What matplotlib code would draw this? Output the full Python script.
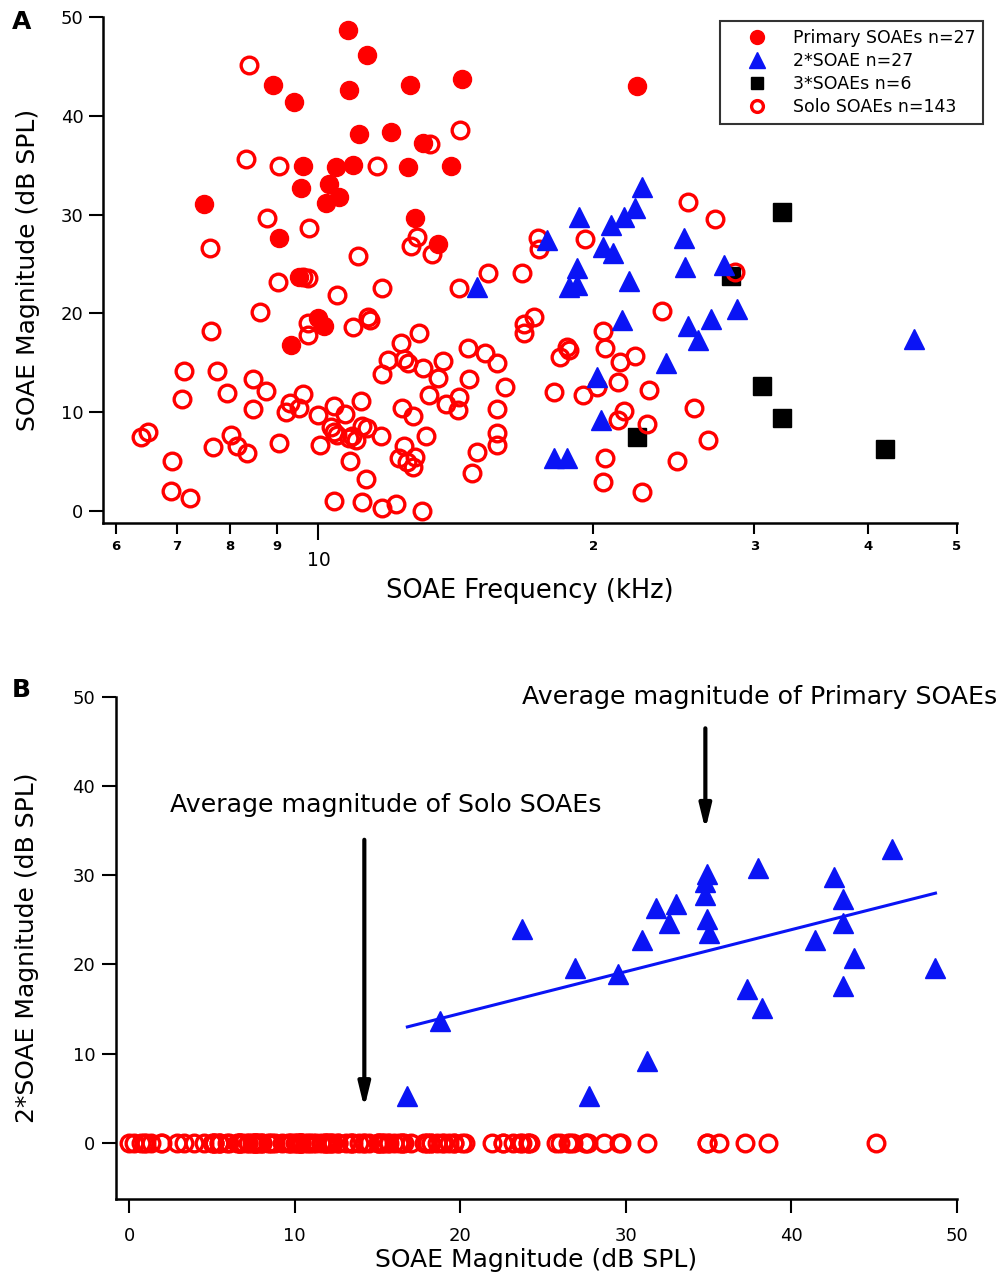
import numpy as np
import matplotlib
matplotlib.use('Agg')
import matplotlib.pyplot as plt
from matplotlib.lines import Line2D

plt.rcParams['font.family'] = ['DejaVu Sans']

# ---- panel A data: frequency (kHz) / magnitude (dB SPL) ----
prim_f = [1.076, 1.131, 0.891, 1.081, 1.258, 1.437, 0.941, 1.109, 1.202, 1.303,
          0.963, 1.044, 1.092, 1.254, 1.395, 0.956, 1.026, 1.054, 1.018, 0.75,
          1.274, 0.906, 1.35, 0.953, 0.934, 1.0, 1.013, 2.23]
prim_m = [48.7, 46.2, 43.1, 42.6, 43.1, 43.7, 41.4, 38.2, 38.4, 37.3,
          34.9, 34.8, 35.0, 34.8, 34.9, 32.7, 33.1, 31.8, 31.2, 31.1,
          29.7, 27.6, 27.0, 23.7, 16.8, 19.5, 18.7, 43.0]

sec_f = [2.26, 2.22, 1.93, 2.16, 2.09, 1.78, 2.51, 2.05, 2.10, 1.92,
         2.52, 2.78, 1.88, 1.92, 2.19, 2.87, 2.15, 2.69, 2.54, 2.60,
         4.49, 1.49, 2.40, 2.02, 2.04, 1.81, 1.87]
sec_m = [32.8, 30.7, 29.8, 29.8, 29.0, 27.4, 27.6, 26.7, 26.1, 24.6,
         24.7, 24.9, 22.7, 22.9, 23.3, 20.5, 19.3, 19.4, 18.7, 17.3,
         17.4, 22.7, 15.0, 13.6, 9.2, 5.4, 5.4]

ter_f = [3.22, 2.83, 3.06, 3.22, 4.17, 2.23]
ter_m = [30.3, 23.8, 12.7, 9.4, 6.3, 7.5]

solo_f = [0.84, 1.43, 1.326, 0.834, 0.906, 1.16, 0.879, 0.977, 0.76, 1.106,
          1.283, 1.264, 1.33, 0.904, 0.963, 0.975, 1.049, 1.175, 1.424, 1.535,
          0.864, 0.762, 0.975, 0.973, 1.092, 1.134, 1.14, 1.23, 1.287, 1.193,
          1.254, 1.24, 1.3, 1.175, 1.37, 1.35, 1.456, 1.46, 1.522, 1.57,
          1.32, 1.378, 1.424, 1.42, 1.57, 1.235, 1.27, 1.313, 1.24, 1.224,
          1.25, 1.277, 1.27, 1.474, 1.493, 1.567, 1.57, 1.172, 1.131, 1.117,
          1.089, 1.1, 1.081, 1.07, 1.112, 1.039, 1.031, 1.039, 1.049, 0.998,
          1.003, 1.084, 1.128, 1.039, 1.117, 1.175, 1.217, 1.297, 0.963, 0.93,
          0.922, 0.951, 0.906, 0.877, 0.849, 0.849, 0.795, 0.775, 0.803, 0.815,
          0.836, 0.766, 0.713, 0.709, 0.692, 0.69, 0.724, 0.64, 0.65,
          1.74, 1.745, 1.96, 2.54, 2.72, 2.86, 1.67, 2.38, 1.72, 1.68,
          1.68, 2.05, 1.87, 2.06, 2.22, 1.84, 1.88, 2.14, 1.6, 1.81,
          1.95, 2.02, 2.13, 2.3, 2.16, 2.13, 2.29, 2.58, 2.67, 2.06,
          2.47, 2.05, 2.26]
solo_m = [45.1, 38.6, 37.2, 35.6, 34.9, 34.9, 29.7, 28.7, 26.6, 25.8,
          27.7, 26.8, 26.0, 23.2, 23.7, 23.6, 21.9, 22.6, 22.6, 24.1,
          20.1, 18.2, 19.0, 17.8, 18.6, 19.6, 19.3, 17.0, 18.0, 15.3,
          15.0, 15.4, 14.5, 13.9, 15.2, 13.5, 16.5, 13.4, 16.0, 15.0,
          11.8, 10.8, 11.6, 10.2, 10.3, 10.4, 9.6, 7.6, 6.6, 5.4,
          5.0, 5.5, 4.5, 3.9, 6.0, 6.7, 7.9, 7.6, 8.4, 8.6,
          7.6, 7.2, 7.4, 9.8, 11.1, 10.6, 8.5, 8.0, 7.7, 9.7,
          6.7, 5.1, 3.3, 1.0, 0.9, 0.3, 0.7, 0.0, 11.9, 10.9,
          10.0, 10.4, 6.9, 12.2, 13.4, 10.3, 12.0, 14.2, 7.7, 6.6,
          5.9, 6.5, 14.2, 11.3, 5.1, 2.0, 1.3, 7.5, 8.0,
          27.6, 26.5, 27.5, 31.3, 29.6, 24.2, 24.1, 20.3, 19.6, 18.9,
          18.0, 18.2, 16.6, 16.5, 15.7, 15.6, 16.3, 15.1, 12.6, 12.1,
          11.8, 12.6, 13.1, 12.3, 10.1, 9.2, 8.8, 10.4, 7.2, 5.4,
          5.1, 2.9, 1.9]

# ---- panel B data: primary magnitude vs 2*SOAE magnitude ----
pair_prim = [16.8, 18.8, 23.7, 26.9, 27.8, 29.5, 31.0, 31.3, 31.8, 32.6,
             33.0, 34.9, 34.8, 34.8, 34.9, 35.0, 37.3, 38.0, 38.2, 41.4,
             42.6, 43.1, 43.1, 43.1, 43.8, 46.1, 48.7]
pair_sec = [5.3, 13.7, 24.0, 19.6, 5.3, 18.9, 22.7, 9.2, 26.3, 24.7,
            26.8, 30.1, 29.3, 27.8, 25.1, 23.5, 17.2, 30.8, 15.1, 22.8,
            29.8, 27.4, 24.7, 17.6, 20.7, 33.0, 19.6]
fit_x = [16.8, 48.7]
fit_y = [13.0, 28.0]

RED = '#ff0000'
BLUE = '#0a14f5'

fig = plt.figure(figsize=(10.02, 12.76), dpi=100)

# ================= panel A =================
axA = fig.add_axes([103/1002, 1-523/1276, (957-103)/1002, (523-17)/1276])
axA.plot(ter_f, ter_m, 's', color='black', ms=13, ls='none', zorder=2, clip_on=False)
axA.plot(prim_f, prim_m, 'o', color=RED, ms=13, ls='none', zorder=3, clip_on=False)
axA.plot(solo_f, solo_m, 'o', mfc='none', mec=RED, mew=2.4, ms=12, ls='none',
         zorder=4, clip_on=False)
axA.plot(sec_f, sec_m, '^', color=BLUE, ms=14, ls='none', zorder=5, clip_on=False)

axA.set_xscale('log')
axA.set_xlim(0.581, 5.0)
axA.set_ylim(-1.2, 50)
axA.set_xticks([1.0], labels=['10'])
axA.set_xticks([0.6, 0.7, 0.8, 0.9, 2, 3, 4, 5],
               labels=['6', '7', '8', '9', '2', '3', '4', '5'], minor=True)
axA.set_yticks([0, 10, 20, 30, 40, 50])
axA.tick_params(axis='x', which='major', length=12, width=1.5, pad=8, labelsize=13.5)
axA.tick_params(axis='x', which='minor', length=8, width=1.5, pad=4, labelsize=9.5)
for t in axA.get_xticklabels(minor=True):
    t.set_fontweight('bold')
axA.tick_params(axis='y', length=10, width=1.5, pad=4, labelsize=13)
for s in ['top', 'right']:
    axA.spines[s].set_visible(False)
for s in ['left', 'bottom']:
    axA.spines[s].set_linewidth(1.8)
axA.set_xlabel('SOAE Frequency (kHz)', fontsize=18.5, labelpad=6)
axA.set_ylabel('SOAE Magnitude (dB SPL)', fontsize=18, labelpad=15)

handles = [
    Line2D([], [], marker='o', ls='none', color=RED, ms=10),
    Line2D([], [], marker='^', ls='none', color=BLUE, ms=11),
    Line2D([], [], marker='s', ls='none', color='black', ms=9),
    Line2D([], [], marker='o', ls='none', mfc='none', mec=RED, mew=2.4, ms=8.5),
]
labels = ['Primary SOAEs n=27', '2*SOAE n=27', '3*SOAEs n=6', 'Solo SOAEs n=143']
leg = axA.legend(handles, labels, loc='upper right',
                 bbox_to_anchor=(983/1002, 1-21/1276), bbox_transform=fig.transFigure,
                 fontsize=12.5, frameon=True, fancybox=False, handlelength=3.4,
                 handletextpad=0.35, borderpad=0.45, labelspacing=0.3, borderaxespad=0)
leg.get_frame().set_edgecolor('black')
leg.get_frame().set_linewidth(1.5)

fig.text(12/1002, 1-22/1276, 'A', fontsize=18, fontweight='bold', va='center', ha='left')

# ================= panel B =================
axB = fig.add_axes([116/1002, 1-1199/1276, (957-116)/1002, (1199-697)/1276])
axB.plot(solo_m, np.zeros(len(solo_m)), 'o', mfc='none', mec=RED, mew=2.4, ms=12,
         ls='none', zorder=3, clip_on=False)
axB.plot(pair_prim, pair_sec, '^', color=BLUE, ms=14, ls='none', zorder=4, clip_on=False)
axB.plot(fit_x, fit_y, '-', color=BLUE, lw=2.2, zorder=5)

axB.annotate('', xy=(14.2, 3.6), xytext=(14.2, 34.3),
             arrowprops=dict(arrowstyle='-|>,head_length=0.9,head_width=0.22',
                             lw=3, color='black', mutation_scale=16))
axB.annotate('', xy=(34.8, 34.8), xytext=(34.8, 46.8),
             arrowprops=dict(arrowstyle='-|>,head_length=0.9,head_width=0.22',
                             lw=3, color='black', mutation_scale=16))
axB.text(15.5, 37.9, 'Average magnitude of Solo SOAEs', fontsize=18.2,
         ha='center', va='center')
axB.text(38.1, 50.0, 'Average magnitude of Primary SOAEs', fontsize=18.2,
         ha='center', va='center')

axB.set_xlim(-0.8, 50)
axB.set_ylim(-6.3, 50)
axB.set_xticks([0, 10, 20, 30, 40, 50])
axB.set_yticks([0, 10, 20, 30, 40, 50])
axB.tick_params(axis='x', length=10, width=1.5, pad=10, labelsize=13)
axB.tick_params(axis='y', length=10, width=1.5, pad=5, labelsize=13)
for s in ['top', 'right']:
    axB.spines[s].set_visible(False)
for s in ['left', 'bottom']:
    axB.spines[s].set_linewidth(1.8)
axB.set_xlabel('SOAE Magnitude (dB SPL)', fontsize=18, labelpad=2)
axB.set_ylabel('2*SOAE Magnitude (dB SPL)', fontsize=18, labelpad=24)

fig.text(12/1002, 1-690/1276, 'B', fontsize=18, fontweight='bold', va='center', ha='left')

fig.savefig('out.png', dpi=100)
